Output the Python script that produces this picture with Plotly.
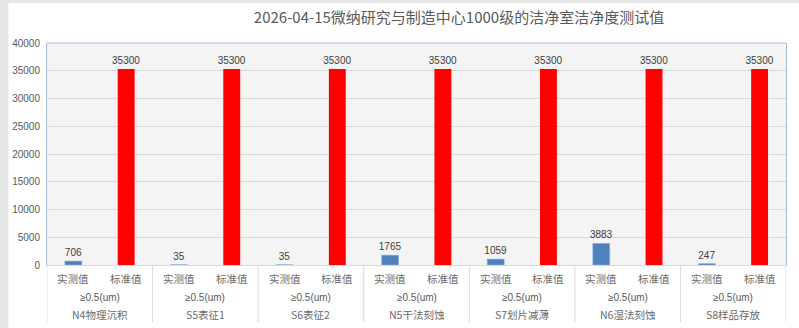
import plotly.graph_objects as go

title_text = "2026-04-15微纳研究与制造中心1000级的洁净室洁净度测试值"
groups = ["N4物理沉积", "S5表征1", "S6表征2", "N5干法刻蚀", "S7划片减薄", "N6湿法刻蚀", "S8样品存放"]
kinds = ["实测值", "标准值"]
size_label = "≥0.5(um)"
measured = [706, 35, 35, 1765, 1059, 3883, 247]
standard = [35300, 35300, 35300, 35300, 35300, 35300, 35300]
y_ticks = [0, 5000, 10000, 15000, 20000, 25000, 30000, 35000, 40000]

W, H = 799, 328
ML, MR, MT, MB = 41, 12, 43, 63
plot_h = H - MT - MB

n = len(groups)
x_meas = [2 * i for i in range(n)]
x_std = [2 * i + 1 for i in range(n)]

lab_font = dict(family="Liberation Sans, Noto Sans CJK SC", size=10, color="#404040")
cat_font = dict(family="Noto Sans CJK SC", size=10.5, color="#6b6b6b")
num_font = dict(family="Liberation Sans", size=10, color="#595959")

fig = go.Figure()
fig.add_trace(go.Bar(
    x=x_meas, y=measured, width=0.32, marker=dict(color="#4f81bd", line=dict(color="#8eaad6", width=0.6)),
    text=[str(v) for v in measured], textposition="outside", textfont=lab_font,
    constraintext="none", cliponaxis=False, hoverinfo="x+y", name=kinds[0]))
fig.add_trace(go.Bar(
    x=x_std, y=standard, width=0.32, marker=dict(color="#ff0000", line=dict(width=0)),
    text=[str(v) for v in standard], textposition="outside", textfont=lab_font,
    constraintext="none", cliponaxis=False, hoverinfo="x+y", name=kinds[1]))

annotations = []
shapes = []
# category labels, three rows
for i, g in enumerate(groups):
    for j, k in enumerate(kinds):
        annotations.append(dict(x=2 * i + j, y=0, xref="x", yref="paper", text=k, showarrow=False,
                                yanchor="middle", xanchor="center", yshift=-13, font=cat_font))
    annotations.append(dict(x=2 * i + 0.5, y=0, xref="x", yref="paper", text=size_label, showarrow=False,
                            yanchor="middle", xanchor="center", yshift=-32, font=num_font))
    annotations.append(dict(x=2 * i + 0.5, y=0, xref="x", yref="paper", text=g, showarrow=False,
                            yanchor="middle", xanchor="center", yshift=-49, font=cat_font))
# group divider lines
for i in range(n + 1):
    shapes.append(dict(type="line", xref="x", yref="paper", x0=2 * i - 0.5, x1=2 * i - 0.5,
                       y0=0, y1=-(322 - (H - MB)) / plot_h, line=dict(color="#d9d9d9", width=1)))
# top border of plot area
shapes.append(dict(type="line", xref="paper", yref="paper", x0=0, x1=1, y0=1, y1=1,
                   line=dict(color="#a9bedc", width=1)))
# thin gray strips at top and left edge of the picture
pw = W - ML - MR
shapes.append(dict(type="rect", xref="paper", yref="paper", x0=-ML / pw - 0.01, x1=1 + MR / pw + 0.01,
                   y0=(H - MB - 3) / plot_h, y1=(H - MB) / plot_h + 0.01,
                   line=dict(width=0), fillcolor="#e6e6e6", layer="above"))
shapes.append(dict(type="rect", xref="paper", yref="paper", x0=-ML / pw - 0.01, x1=-(ML - 2) / pw,
                   y0=-MB / plot_h - 0.01, y1=(H - MB) / plot_h + 0.01,
                   line=dict(width=0), fillcolor="#e6e6e6", layer="above"))

fig.update_layout(
    width=W, height=H,
    margin=dict(l=ML, r=MR, t=MT, b=MB, pad=0),
    paper_bgcolor="#ffffff", plot_bgcolor="#f4f4f4",
    barmode="overlay", showlegend=False,
    title=dict(text=title_text, x=459 / W, xanchor="center", xref="container",
               y=1 - 18 / H, yanchor="middle", yref="container",
               font=dict(family="Noto Sans CJK SC", size=15, color="#595959")),
    xaxis=dict(range=[-0.5, 2 * n - 0.5], showticklabels=False, showgrid=False, zeroline=False,
               showline=True, linecolor="#d9d9d9", linewidth=1, ticks=""),
    yaxis=dict(range=[0, 40000], tickvals=y_ticks, ticktext=[str(v) for v in y_ticks],
               showgrid=True, gridcolor="#d9d9d9", gridwidth=1, zeroline=False,
               showline=True, linecolor="#a9bedc", linewidth=1, mirror=True,
               ticks="", ticklabelstandoff=4,
               tickfont=dict(family="Liberation Sans", size=10, color="#595959")),
    annotations=annotations, shapes=shapes,
    font=dict(family="Noto Sans CJK SC"),
)

fig.write_html("out.html")
